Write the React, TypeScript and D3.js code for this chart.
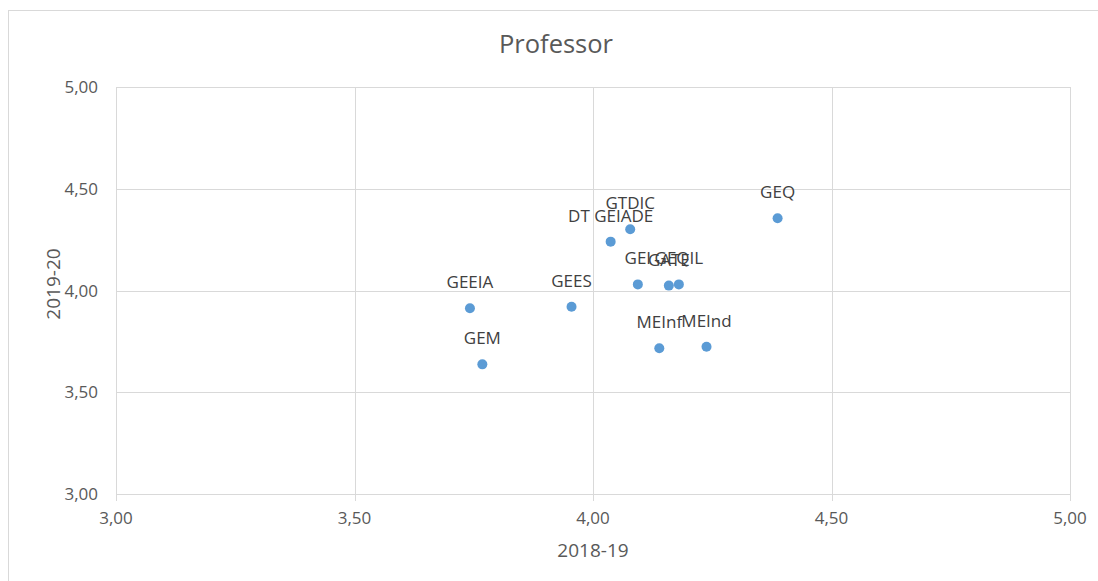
import { useEffect, useRef } from 'react'
import * as d3 from 'd3'

const labels = ['GEEIA', 'GEES', 'GEM', 'DT GEIADE', 'GTDIC', 'GEQ', 'GEI', 'GATE', 'GEQIL', 'MEInf', 'MEInd']
const x2018 = [3.742, 3.955, 3.768, 4.037, 4.078, 4.387, 4.094, 4.159, 4.180, 4.139, 4.238]
const y2019 = [3.913, 3.920, 3.637, 4.240, 4.301, 4.355, 4.030, 4.024, 4.030, 3.716, 3.724]
const ticks = [3, 3.5, 4, 4.5, 5]

const FONT = '"Open Sans", sans-serif'

const App = () => {
  const svgRef = useRef<SVGSVGElement>(null)

  useEffect(() => {
    const W = 1098
    const H = 581
    const plot = { left: 116, right: 1070, top: 87, bottom: 494 }

    const svg = d3.select(svgRef.current)
    svg.selectAll('*').remove()
    svg.attr('width', W).attr('height', H)

    const fmt = d3.formatLocale({ decimal: ',', thousands: '.', grouping: [3], currency: ['', ''] }).format('.2f')

    const x = d3.scaleLinear().domain([3, 5]).range([plot.left, plot.right])
    const y = d3.scaleLinear().domain([3, 5]).range([plot.bottom, plot.top])
    const px = (v: number) => Math.round(v) + 0.5

    // chart frame
    svg.append('rect')
      .attr('x', 8.5).attr('y', 10.5)
      .attr('width', 1110).attr('height', 600)
      .attr('fill', '#fff')
      .attr('stroke', '#d9d9d9')

    svg.append('text')
      .attr('x', 556).attr('y', 53)
      .attr('text-anchor', 'middle')
      .attr('font-family', FONT).attr('font-size', 25.5)
      .attr('fill', '#595959')
      .text('Professor')

    const grid = svg.append('g').attr('stroke', '#d9d9d9').attr('stroke-width', 1)
    ticks.forEach(t => {
      grid.append('line')
        .attr('x1', plot.left).attr('x2', plot.right)
        .attr('y1', px(y(t))).attr('y2', px(y(t)))
      grid.append('line')
        .attr('x1', px(x(t))).attr('x2', px(x(t)))
        .attr('y1', plot.top).attr('y2', plot.bottom + 7)
    })

    svg.append('g').selectAll('text.xt')
      .data(ticks)
      .enter()
      .append('text')
      .attr('x', d => x(d))
      .attr('y', plot.bottom + 29.5)
      .attr('text-anchor', 'middle')
      .attr('font-family', FONT).attr('font-size', 17)
      .attr('fill', '#595959')
      .text(d => fmt(d))

    svg.append('g').selectAll('text.yt')
      .data(ticks)
      .enter()
      .append('text')
      .attr('x', 98)
      .attr('y', d => y(d) + 6)
      .attr('text-anchor', 'end')
      .attr('font-family', FONT).attr('font-size', 17)
      .attr('fill', '#595959')
      .text(d => fmt(d))

    svg.append('text')
      .attr('x', (plot.left + plot.right) / 2)
      .attr('y', 556.5)
      .attr('text-anchor', 'middle')
      .attr('font-family', FONT).attr('font-size', 19)
      .attr('fill', '#595959')
      .text('2018-19')

    svg.append('text')
      .attr('transform', 'translate(59.5,284) rotate(-90)')
      .attr('text-anchor', 'middle')
      .attr('font-family', FONT).attr('font-size', 19)
      .attr('fill', '#595959')
      .text('2019-20')

    const idx = d3.range(labels.length)

    svg.append('g').selectAll('circle')
      .data(idx)
      .enter()
      .append('circle')
      .attr('cx', i => x(x2018[i]))
      .attr('cy', i => y(y2019[i]))
      .attr('r', 5)
      .attr('fill', '#5b9bd5')

    svg.append('g').selectAll('text')
      .data(idx)
      .enter()
      .append('text')
      .attr('x', i => x(x2018[i]))
      .attr('y', i => y(y2019[i]) - 20)
      .attr('text-anchor', 'middle')
      .attr('font-family', FONT).attr('font-size', 17)
      .attr('fill', '#404040')
      .text(i => labels[i])
  }, [])

  return <svg ref={svgRef} style={{ position: 'fixed', left: 0, top: 0, display: 'block' }}></svg>
}

export default App
